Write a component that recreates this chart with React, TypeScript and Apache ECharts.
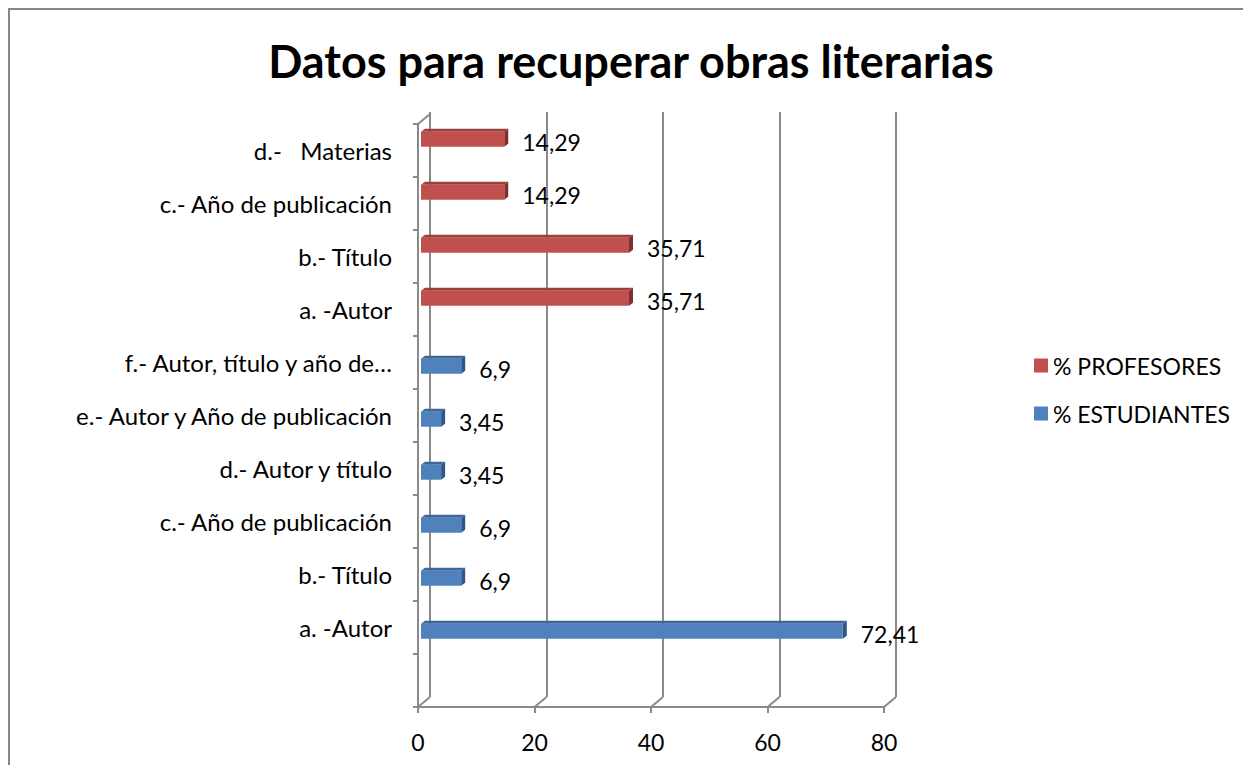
import React, { useEffect, useRef } from "react";
import * as echarts from "echarts";

const FONT = "Lato";

const titleText = "Datos para recuperar obras literarias";
const categories = [
  "",
  "a. -Autor",
  "b.- Título",
  "c.- Año de publicación",
  "d.- Autor y título",
  "e.- Autor y Año de publicación",
  "f.- Autor, título y año de…",
  "a. -Autor",
  "b.- Título",
  "c.- Año de publicación",
  "d.-   Materias",
];
const estudiantesIdx = [1, 2, 3, 4, 5, 6];
const estudiantesValues = [72.41, 6.9, 6.9, 3.45, 3.45, 6.9];
const profesoresIdx = [7, 8, 9, 10];
const profesoresValues = [35.71, 35.71, 14.29, 14.29];
const xTicks = [0, 20, 40, 60, 80];
const seriesNames = ["% PROFESORES", "% ESTUDIANTES"];

const fmt = (v: number) => String(v).replace(".", ",");

function barRenderer(front: string, top: string, side: string, offsetFrac: number) {
  return (params: any, api: any) => {
    const v = api.value(0);
    const c = api.value(1);
    const p0 = api.coord([0, c]);
    const p1 = api.coord([v, c]);
    const band = api.size([0, 1])[1];
    const cy = p0[1] + band * offsetFrac;
    const x0 = p0[0] + 3;
    const x1 = p1[0] + 3;
    const h = 15;
    const d = 4;
    const dy = 3;
    const yt = cy - h / 2;
    const yb = cy + h / 2;
    return {
      type: "group",
      children: [
        {
          type: "polygon",
          shape: { points: [[x0, yt], [x0 + d, yt - dy], [x1 + d, yt - dy], [x1, yt]] },
          style: { fill: top },
        },
        {
          type: "polygon",
          shape: { points: [[x1, yt], [x1 + d, yt - dy], [x1 + d, yb - dy], [x1, yb]] },
          style: { fill: side },
        },
        {
          type: "rect",
          shape: { x: x0, y: yt, width: x1 - x0, height: h },
          style: { fill: front },
        },
        {
          type: "text",
          style: {
            text: fmt(v),
            x: x1 + 18,
            y: cy + 3,
            align: "left",
            verticalAlign: "middle",
            fontSize: 23,
            fontFamily: FONT,
            fill: "#000",
          },
        },
      ],
    };
  };
}

export default function App() {
  const ref = useRef<HTMLDivElement>(null);
  useEffect(() => {
    if (!ref.current) return;
    const chart = echarts.init(ref.current, undefined, { renderer: "svg" });
    const gray = "#8a8a8a";
    chart.setOption({
      animation: false,
      backgroundColor: "#fff",
      textStyle: { fontFamily: FONT },
      title: {
        text: titleText,
        left: 626,
        top: 33,
        textAlign: "center",
        textStyle: { fontFamily: FONT, fontWeight: "bold", fontSize: 45, color: "#000" },
      },
      legend: {
        orient: "vertical",
        left: 1029,
        top: 349,
        itemWidth: 14,
        itemHeight: 14,
        itemGap: 25,
        icon: "rect",
        data: seriesNames,
        textStyle: { fontFamily: FONT, fontSize: 23, color: "#000" },
      },
      graphic: [
        {
          type: "polyline",
          shape: { points: [[9, 765], [9, 9], [1243, 9]] },
          style: { stroke: "#878787", lineWidth: 2, fill: "none" },
          silent: true,
        },
      ],
      grid: [
        { left: 418, top: 124, width: 466, height: 583 },
        { left: 430, top: 112, width: 466, height: 585 },
      ],
      xAxis: [
        {
          type: "value",
          gridIndex: 0,
          min: 0,
          max: 80,
          interval: 20,
          splitLine: { show: false },
          axisLine: { show: true, lineStyle: { color: gray, width: 2 } },
          axisTick: { show: true, length: 6, lineStyle: { color: gray, width: 2 } },
          axisLabel: { fontSize: 23, color: "#000", fontFamily: FONT, margin: 23 },
        },
        {
          type: "value",
          gridIndex: 1,
          min: 0,
          max: 80,
          interval: 20,
          splitLine: { show: true, lineStyle: { color: gray, width: 2 } },
          axisLine: { show: false },
          axisTick: { show: false },
          axisLabel: { show: false },
        },
      ],
      yAxis: [
        {
          type: "category",
          gridIndex: 0,
          data: categories,
          axisLine: { show: true, lineStyle: { color: gray, width: 2 } },
          axisTick: { show: true, length: 5, lineStyle: { color: gray, width: 2 } },
          axisLabel: { fontSize: 24, color: "#000", fontFamily: FONT, margin: 26, interval: 0 },
          splitLine: { show: false },
        },
        {
          type: "value",
          gridIndex: 1,
          min: 0,
          max: 1,
          show: false,
          splitLine: { show: false },
        },
      ],
      series: [
        {
          type: "custom",
          name: "floor",
          xAxisIndex: 0,
          yAxisIndex: 0,
          silent: true,
          z: 1,
          data: xTicks.map((t) => [t, 0]),
          renderItem: (params: any, api: any) => {
            const cs = params.coordSys;
            const x = api.coord([api.value(0), 0])[0];
            const yb = cs.y + cs.height;
            const children: any[] = [
              {
                type: "line",
                shape: { x1: x, y1: yb, x2: x + 12, y2: yb - 10 },
                style: { stroke: gray, lineWidth: 2 },
              },
            ];
            if (params.dataIndex === 0) {
              children.push({
                type: "line",
                shape: { x1: cs.x, y1: cs.y, x2: cs.x + 12, y2: cs.y - 10 },
                style: { stroke: gray, lineWidth: 2 },
              });
            }
            return { type: "group", children };
          },
        },
        {
          type: "custom",
          name: seriesNames[1],
          xAxisIndex: 0,
          yAxisIndex: 0,
          z: 3,
          itemStyle: { color: "#4F81BD" },
          data: estudiantesValues.map((v, i) => [v, estudiantesIdx[i]]),
          renderItem: barRenderer("#4F81BD", "#3d6797", "#30558a", 0.07),
        },
        {
          type: "custom",
          name: seriesNames[0],
          xAxisIndex: 0,
          yAxisIndex: 0,
          z: 3,
          itemStyle: { color: "#C0504D" },
          data: profesoresValues.map((v, i) => [v, profesoresIdx[i]]),
          renderItem: barRenderer("#C0504D", "#9c3f3c", "#7f302e", -0.21),
        },
        {
          type: "line",
          name: "back",
          xAxisIndex: 1,
          yAxisIndex: 1,
          data: [],
          silent: true,
        },
      ],
    });
    return () => chart.dispose();
  }, []);
  return (
    <div
      ref={ref}
      style={{ position: "fixed", left: 0, top: 0, width: 1243, height: 765 }}
    />
  );
}
